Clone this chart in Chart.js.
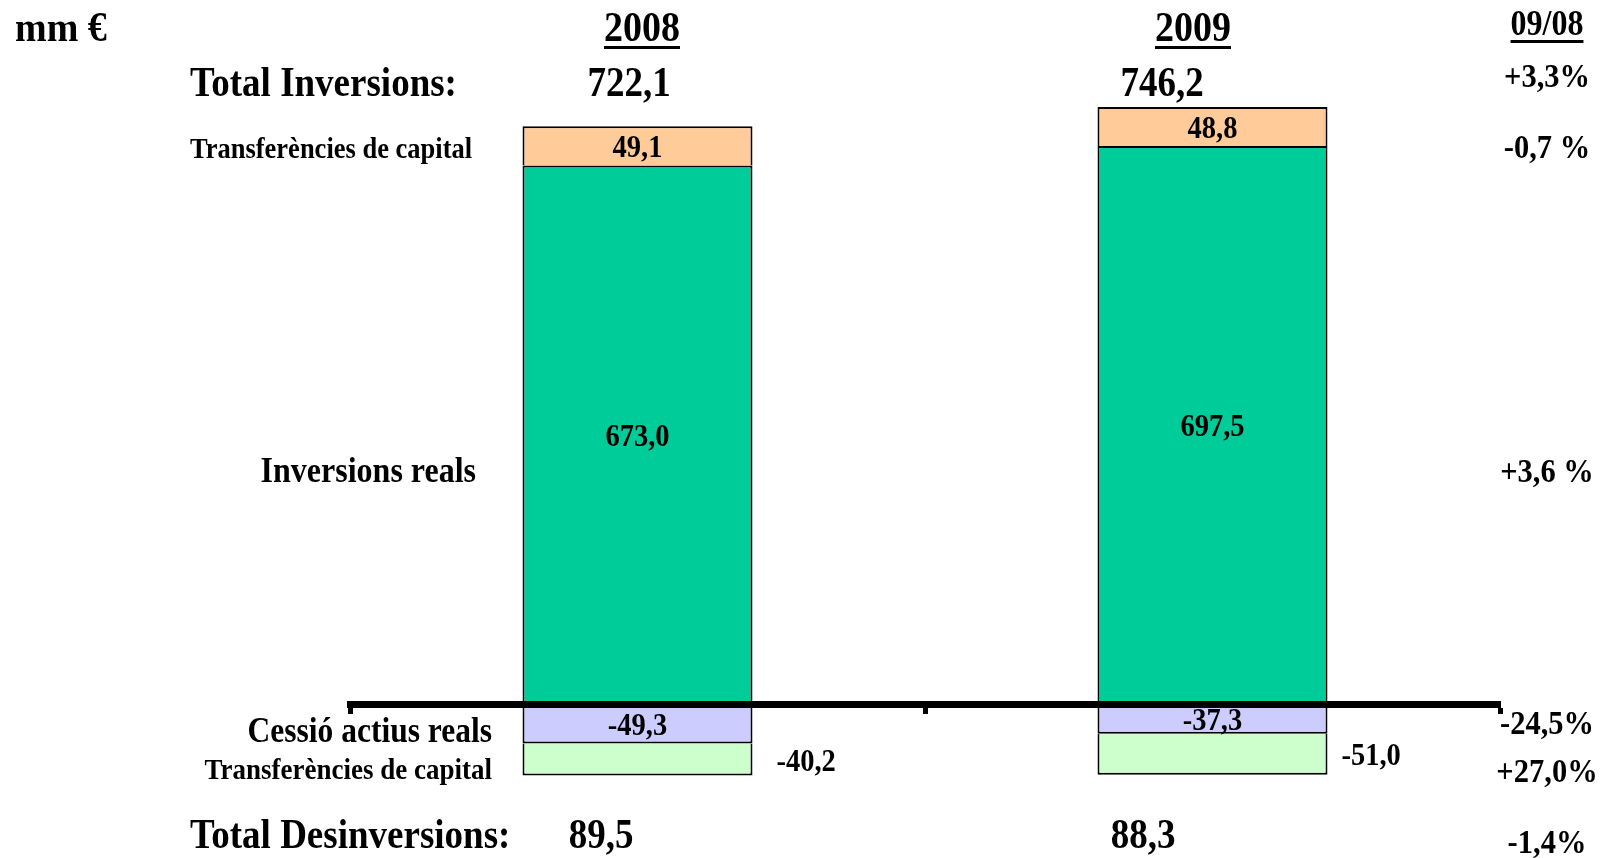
<!DOCTYPE html>
<html><head><meta charset="utf-8">
<script src="https://cdn.jsdelivr.net/npm/chart.js@4"></script>
<style>html,body{margin:0;padding:0;background:#fff;} #wrap{position:relative;width:1602px;height:858px;}</style>
</head><body><div id="wrap"><canvas id="c"></canvas></div>
<script>
// ---- data ----
const categories = ['2008', '2009'];
const inversionsReals = [673.0, 697.5];
const transferenciesCapitalInv = [49.1, 48.8];
const cessioActiusReals = [-49.3, -37.3];
const transferenciesCapitalDesinv = [-40.2, -51.0];
const totalInversions = [722.1, 746.2];
const totalDesinversions = [89.5, 88.3];
const variacio = ['+3,3%', '-0,7 %', '+3,6 %', '-24,5%', '+27,0%', '-1,4%'];
const unitLabel = 'mm €';
const variacioHeader = '09/08';
const rowLabels = ['Total Inversions:', 'Transferències de capital', 'Inversions reals',
                   'Cessió actius reals', 'Transferències de capital', 'Total Desinversions:'];

// ---- helpers ----
const FONT = '"Liberation Serif", "Times New Roman", serif';
const STRETCH = 1.12; // reference glyphs are taller than wide
const fmt = v => v.toFixed(1).replace('.', ',');
function txt(ctx, s, x, y, size, align, underline, baseline) {
  ctx.save();
  ctx.font = 'bold ' + size + 'px ' + FONT;
  ctx.textAlign = align;
  ctx.textBaseline = baseline || 'alphabetic';
  ctx.fillStyle = '#000';
  ctx.translate(x, y);
  ctx.scale(1, STRETCH);
  ctx.fillText(s, 0, 0);
  ctx.restore();
  if (underline) {
    ctx.font = 'bold ' + size + 'px ' + FONT;
    const w = ctx.measureText(s).width;
    const x0 = align === 'center' ? x - w / 2 : (align === 'right' ? x - w : x);
    ctx.fillStyle = '#000';
    ctx.fillRect(x0, y + 5, w, 3);
  }
}

const annotations = {
  id: 'annotations',
  afterDraw(chart) {
    const ctx = chart.ctx;
    ctx.save();
    txt(ctx, unitLabel, 15, 41, 38, 'left');
    const headerX = [642, 1193];
    categories.forEach((c, i) => txt(ctx, c, headerX[i], 41, 38, 'center', true));
    txt(ctx, variacioHeader, 1547, 35, 32, 'center', true);
    txt(ctx, rowLabels[0], 190, 96, 37, 'left');
    txt(ctx, rowLabels[1], 190, 158, 26.5, 'left');
    txt(ctx, rowLabels[2], 476, 482, 32, 'right');
    txt(ctx, rowLabels[3], 492, 742, 31.5, 'right');
    txt(ctx, rowLabels[4], 492, 779, 27, 'right');
    txt(ctx, rowLabels[5], 190, 848, 37, 'left');
    const totInvX = [629, 1162];
    totalInversions.forEach((v, i) => txt(ctx, fmt(v), totInvX[i], 96, 37, 'center'));
    const totDesX = [601, 1143];
    totalDesinversions.forEach((v, i) => txt(ctx, fmt(v), totDesX[i], 848, 37, 'center'));
    const varY = [87, 158, 482, 734, 782, 853];
    variacio.forEach((s, i) => txt(ctx, s, 1547, varY[i], 30.5, 'center'));
    ctx.restore();
  }
};

const barLabels = {
  id: 'barLabels',
  afterDatasetsDraw(chart) {
    const ctx = chart.ctx;
    ctx.save();
    const outsideOffset = [24, 14];
    chart.data.datasets.forEach((ds, di) => {
      const meta = chart.getDatasetMeta(di);
      meta.data.forEach((el, i) => {
        const v = ds.data[i];
        const cy = (el.y + el.base) / 2;
        if (di === 3) {
          txt(ctx, fmt(v), el.x + el.width / 2 + outsideOffset[i], cy + 3, 28.5, 'left', false, 'middle');
        } else {
          txt(ctx, fmt(v), el.x, cy + 3, 28.5, 'center', false, 'middle');
        }
      });
    });
    ctx.restore();
  }
};

new Chart(document.getElementById('c'), {
  type: 'bar',
  data: {
    labels: categories,
    datasets: [
      { label: 'Inversions reals', data: inversionsReals, backgroundColor: '#00CC99' },
      { label: 'Transferències de capital', data: transferenciesCapitalInv, backgroundColor: '#FFCC99' },
      { label: 'Cessió actius reals', data: cessioActiusReals, backgroundColor: '#CCCCFF' },
      { label: 'Transferències de capital (desinversions)', data: transferenciesCapitalDesinv, backgroundColor: '#CCFFCC' }
    ]
  },
  options: {
    responsive: true,
    maintainAspectRatio: false,
    animation: false,
    layout: { padding: { left: 350, right: 102, top: 0, bottom: 0 } },
    datasets: {
      bar: {
        categoryPercentage: 1,
        barPercentage: 0.4,
        borderColor: '#000',
        borderWidth: 2,
        borderSkipped: 'start'
      }
    },
    plugins: { legend: { display: false }, tooltip: { enabled: false } },
    scales: {
      x: {
        stacked: true,
        position: { y: 0 },
        ticks: { display: false },
        grid: { z: 1, drawOnChartArea: false, drawTicks: true, tickLength: 6, tickWidth: 5, tickColor: '#000', offset: true },
        border: { z: 1, display: true, width: 7, color: '#000' }
      },
      y: {
        stacked: true,
        display: false,
        min: -192.5,
        max: 880
      }
    }
  },
  plugins: [barLabels, annotations]
});
</script>
</body></html>
